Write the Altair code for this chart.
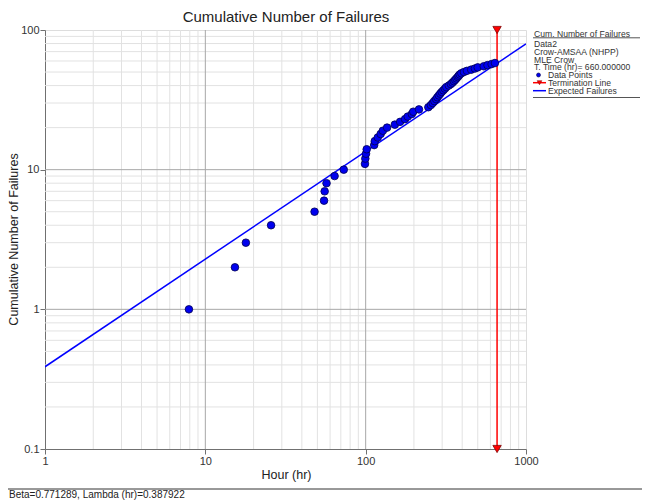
import altair as alt
import pandas as pd

# ---- data ----
hours = [7.9, 15.3, 17.9, 25.7, 48, 55, 55.5, 57, 64, 73,
         99, 99.5, 100.5, 101.5, 113, 114, 119, 124, 128, 136,
         152, 164, 176, 183, 194, 198, 215, 246, 255, 262,
         268, 275, 280, 286, 292, 298, 305, 312, 318, 330,
         340, 348, 355, 362, 368, 375, 380, 386, 395, 410,
         428, 455, 480, 500, 545, 575, 610, 640]
cum_failures = [1, 2, 3, 4, 5, 6, 7, 8, 9, 10,
                11, 12, 13, 14, 15, 16, 17, 18, 19, 20,
                21, 22, 23, 24, 25, 26, 27, 28, 29, 30,
                31, 32, 33, 34, 35, 36, 37, 38, 39, 40,
                41, 42, 43, 44, 45, 46, 47, 48, 49, 50,
                51, 52, 53, 54, 55, 56, 57, 58]

expected_hours = [1, 1000]
expected_failures = [0.388, 79.6]

termination_time = [660, 660]
termination_y = [0.1, 100]

x_major = [10, 100]
x_minor = [2, 3, 4, 5, 6, 7, 8, 9, 20, 30, 40, 50, 60, 70, 80, 90,
           200, 300, 400, 500, 600, 700, 800, 900]
y_major = [1, 10]
y_minor = [0.2, 0.3, 0.4, 0.5, 0.6, 0.7, 0.8, 0.9, 2, 3, 4, 5, 6, 7, 8, 9,
           20, 30, 40, 50, 60, 70, 80, 90]
x_ticks = [1, 10, 100, 1000]
y_ticks = [0.1, 1, 10, 100]

FONT = "Liberation Sans"
TXT = "#333333"

xs = alt.Scale(type="log", domain=[1, 1000], nice=False)
ys = alt.Scale(type="log", domain=[0.1, 100], nice=False)

x_axis = alt.Axis(values=x_ticks, format="~g", grid=False, tickSize=5, tickColor="#707070",
                  domainColor="#707070", labelFont=FONT, labelFontSize=11, labelColor=TXT,
                  labelPadding=1, labelFlush=False)
y_axis = alt.Axis(values=y_ticks, format="~g", grid=False, tickSize=5, tickColor="#707070",
                  domainColor="#707070", labelFont=FONT, labelFontSize=11, labelColor=TXT,
                  labelPadding=1, labelFlush=False)


def X(f):
    return alt.X(f, scale=xs, axis=x_axis, title="")


def Y(f):
    return alt.Y(f, scale=ys, axis=y_axis, title="")


pts = pd.DataFrame({"t": hours, "n": cum_failures})
exp_df = pd.DataFrame({"t": expected_hours, "n": expected_failures})
term_df = pd.DataFrame({"t": termination_time, "n": termination_y})

gx_minor = alt.Chart(pd.DataFrame({"t": x_minor})).mark_rule(color="#e2e2e2", strokeWidth=1).encode(x=X("t:Q"))
gy_minor = alt.Chart(pd.DataFrame({"n": y_minor})).mark_rule(color="#e2e2e2", strokeWidth=1).encode(y=Y("n:Q"))
gx_major = alt.Chart(pd.DataFrame({"t": x_major})).mark_rule(color="#a8a8a8", strokeWidth=1).encode(x=X("t:Q"))
gy_major = alt.Chart(pd.DataFrame({"n": y_major})).mark_rule(color="#a8a8a8", strokeWidth=1).encode(y=Y("n:Q"))

expected = alt.Chart(exp_df).mark_line(color="#0000ff", strokeWidth=1.5, clip=True).encode(
    x=X("t:Q"), y=Y("n:Q"))

term_line = alt.Chart(term_df).mark_line(color="#ff0000", strokeWidth=1.5).encode(
    x=X("t:Q"), y=Y("n:Q"))
term_pts = alt.Chart(term_df).mark_point(shape="triangle-down", filled=True, fill="#ff0000",
                                         stroke="#800000", strokeWidth=0.8, size=70, opacity=1).encode(
    x=X("t:Q"), y=Y("n:Q"))

points = alt.Chart(pts).mark_point(shape="circle", filled=True, fill="#0000ee", stroke="#000050",
                                   strokeWidth=0.8, size=58, opacity=1).encode(
    x=X("t:Q"), y=Y("n:Q"))

# ---- titles (drawn) ----
title_txt = alt.Chart().mark_text(text="Cumulative Number of Failures", align="center", baseline="middle",
                                  font=FONT, fontSize=15, color="#222222").encode(
    x=alt.value(241), y=alt.value(-13))
x_title = alt.Chart().mark_text(text="Hour (hr)", align="center", baseline="middle",
                                font=FONT, fontSize=12.5, color="#222222").encode(
    x=alt.value(241.5), y=alt.value(445))
y_title = alt.Chart().mark_text(text="Cumulative Number of Failures", align="center", baseline="middle",
                                angle=270, font=FONT, fontSize=12.5, color="#222222").encode(
    x=alt.value(-31.5), y=alt.value(209.5))

# ---- legend (drawn) ----
LF = 8.6
leg_head = alt.Chart().mark_text(text="Cum. Number of Failures", align="left", baseline="middle",
                                 font=FONT, fontSize=LF, color=TXT).encode(
    x=alt.value(489), y=alt.value(3.5))
leg_under = alt.Chart().mark_rule(color="#555555", strokeWidth=1).encode(
    x=alt.value(488), x2=alt.value(595), y=alt.value(7.8))
leg_info = alt.Chart().mark_text(text=["Data2", "Crow-AMSAA (NHPP)", "MLE Crow", "T. Time (hr)= 660.000000"],
                                 align="left", baseline="middle", lineHeight=7.8,
                                 font=FONT, fontSize=LF, color=TXT).encode(
    x=alt.value(489), y=alt.value(14))
leg_dot = alt.Chart().mark_point(shape="circle", filled=True, fill="#0000ee", stroke="#000050",
                                 strokeWidth=0.6, size=16, opacity=1).encode(
    x=alt.value(493.5), y=alt.value(45))
leg_dot_t = alt.Chart().mark_text(text="Data Points", align="left", baseline="middle",
                                  font=FONT, fontSize=LF, color=TXT).encode(
    x=alt.value(503), y=alt.value(45))
leg_term = alt.Chart().mark_rule(color="#ff0000", strokeWidth=1.5).encode(
    x=alt.value(488), x2=alt.value(501), y=alt.value(52.7))
leg_term_p = alt.Chart().mark_point(shape="triangle-down", filled=True, fill="#ff0000", stroke="#800000",
                                    strokeWidth=0.5, size=22, opacity=1).encode(
    x=alt.value(494.5), y=alt.value(52.7))
leg_term_t = alt.Chart().mark_text(text="Termination Line", align="left", baseline="middle",
                                   font=FONT, fontSize=LF, color=TXT).encode(
    x=alt.value(503), y=alt.value(52.7))
leg_exp = alt.Chart().mark_rule(color="#0000ff", strokeWidth=1.5).encode(
    x=alt.value(488), x2=alt.value(501), y=alt.value(60.7))
leg_exp_t = alt.Chart().mark_text(text="Expected Failures", align="left", baseline="middle",
                                  font=FONT, fontSize=LF, color=TXT).encode(
    x=alt.value(503), y=alt.value(60.7))
leg_bottom = alt.Chart().mark_rule(color="#555555", strokeWidth=1).encode(
    x=alt.value(488), x2=alt.value(595), y=alt.value(67.5))

# ---- status bar ----
status_line = alt.Chart().mark_rule(color="#333333", strokeWidth=1).encode(
    x=alt.value(-37), x2=alt.value(597), y=alt.value(459))
status_text = alt.Chart().mark_text(text="Beta=0.771289, Lambda (hr)=0.387922", align="left",
                                    baseline="middle", font=FONT, fontSize=10, color="#222222").encode(
    x=alt.value(-36), y=alt.value(465))

chart = alt.layer(
    gx_minor, gy_minor, gx_major, gy_major, expected, term_line, points, term_pts,
    title_txt, x_title, y_title,
    leg_head, leg_under, leg_info, leg_dot, leg_dot_t, leg_term, leg_term_p, leg_term_t,
    leg_exp, leg_exp_t, leg_bottom, status_line, status_text
).properties(
    width=481, height=419,
    autosize=alt.AutoSizeParams(type="none"),
    padding={"left": 37, "top": 22, "right": 116, "bottom": 52},
).configure_view(stroke="#707070", strokeWidth=1).configure(background="white")

chart.save("out.html", embed_options={"renderer": "svg", "actions": False})
